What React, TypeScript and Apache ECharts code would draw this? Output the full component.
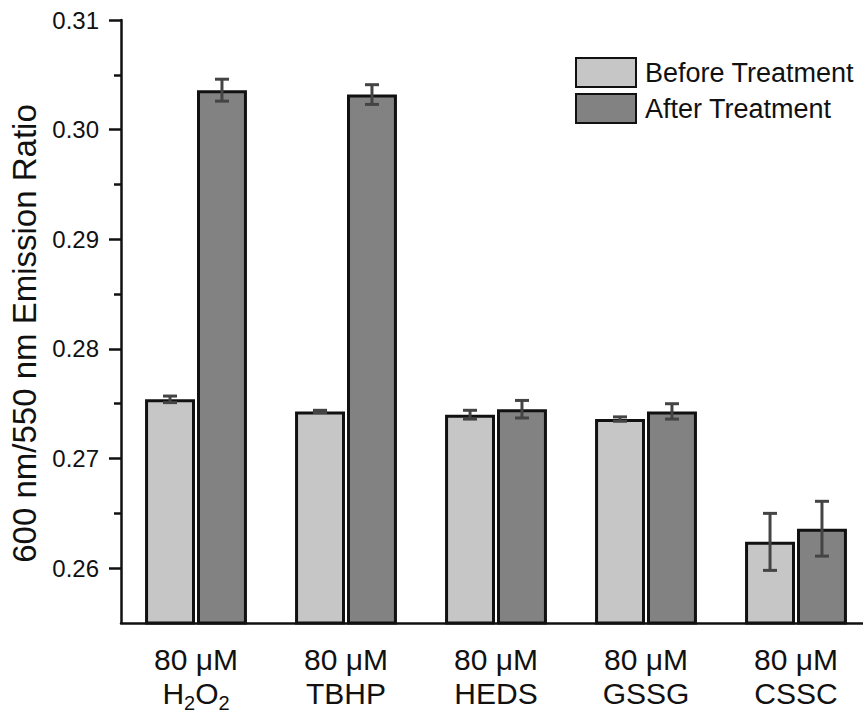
import React, { useEffect, useRef } from "react";
import * as echarts from "echarts";

const categories = ["H2O2", "TBHP", "HEDS", "GSSG", "CSSC"];
const categoryLabels = [
  "80 μM\nH{sub|2}O{sub|2}",
  "80 μM\nTBHP",
  "80 μM\nHEDS",
  "80 μM\nGSSG",
  "80 μM\nCSSC",
];
const beforeValues = [0.2754, 0.2743, 0.274, 0.2736, 0.2624];
const beforeErrors = [0.0003, 0.0001, 0.0004, 0.0002, 0.0026];
const afterValues = [0.3036, 0.3032, 0.2745, 0.2743, 0.2636];
const afterErrors = [0.001, 0.0009, 0.0008, 0.0007, 0.0025];
const majorTicks = [0.26, 0.27, 0.28, 0.29, 0.3, 0.31];
const minorTicks = [0.265, 0.275, 0.285, 0.295, 0.305];

const FONT = "Liberation Sans, Arial, sans-serif";
const BAR_FRAC = 0.333;
const BAR_GAP = 0.04;

function errorSeries(values: number[], errors: number[], side: number) {
  return {
    type: "custom",
    silent: true,
    z: 5,
    data: values.map((v, i) => [i, v - errors[i], v + errors[i]]),
    renderItem: (params: any, api: any) => {
      const band = api.size([1, 0])[0];
      const bw = band * BAR_FRAC;
      const off = side * bw * (0.5 + BAR_GAP / 2);
      const lo = api.coord([api.value(0), api.value(1)]);
      const hi = api.coord([api.value(0), api.value(2)]);
      const x = lo[0] + off;
      const cap = 7;
      const style = { stroke: "#444", lineWidth: 3 };
      return {
        type: "group",
        children: [
          { type: "line", shape: { x1: x, y1: lo[1], x2: x, y2: hi[1] }, style },
          { type: "line", shape: { x1: x - cap, y1: lo[1], x2: x + cap, y2: lo[1] }, style },
          { type: "line", shape: { x1: x - cap, y1: hi[1], x2: x + cap, y2: hi[1] }, style },
        ],
      };
    },
  };
}

export default function App() {
  const ref = useRef<HTMLDivElement>(null);
  useEffect(() => {
    if (!ref.current) return;
    const chart = echarts.init(ref.current, null, { renderer: "svg" });
    chart.setOption({
      animation: false,
      backgroundColor: "#fff",
      textStyle: { fontFamily: FONT },
      legend: {
        data: ["Before Treatment", "After Treatment"],
        orient: "vertical",
        left: 575,
        top: 57,
        padding: 0,
        itemWidth: 60,
        itemHeight: 29,
        itemGap: 5,
        icon: "rect",
        textStyle: { fontSize: 27, color: "#111", fontFamily: FONT, padding: [0, 0, 0, 4] },
      },
      grid: { left: 121, right: 0, top: 20, bottom: 102, outerBoundsMode: "none" },
      xAxis: {
        type: "category",
        data: categories,
        axisLine: { lineStyle: { color: "#111", width: 2.5 } },
        axisTick: { show: false },
        axisLabel: {
          interval: 0,
          margin: 19,
          fontSize: 30,
          lineHeight: 34,
          color: "#111",
          fontFamily: FONT,
          formatter: (_v: string, i: number) => categoryLabels[i],
          rich: {
            sub: { fontSize: 20, padding: [20, 0, 0, 0], color: "#111", fontFamily: FONT },
          },
        },
      },
      yAxis: [
        {
          type: "value",
          min: 0.255,
          max: 0.31,
          name: "600 nm/550 nm Emission Ratio",
          nameLocation: "middle",
          nameGap: 80,
          nameTextStyle: { fontSize: 33, color: "#111", fontFamily: FONT, padding: [0, 24, 0, 0] },
          axisLine: { show: true, lineStyle: { color: "#111", width: 2.5 } },
          axisTick: { show: true, customValues: majorTicks, length: 12, lineStyle: { width: 2.5, color: "#111" } },
          axisLabel: {
            customValues: majorTicks,
            margin: 22,
            fontSize: 24,
            color: "#111",
            fontFamily: FONT,
            formatter: (v: number) => v.toFixed(2),
          },
          splitLine: { show: false },
        },
        {
          type: "value",
          min: 0.255,
          max: 0.31,
          position: "left",
          axisLine: { show: false },
          axisTick: { show: true, customValues: minorTicks, length: 7, lineStyle: { width: 2.5, color: "#111" } },
          axisLabel: { show: false },
          splitLine: { show: false },
        },
      ],
      series: [
        {
          name: "Before Treatment",
          type: "bar",
          data: beforeValues,
          barWidth: (BAR_FRAC * 100).toFixed(1) + "%",
          barGap: BAR_GAP * 100 + "%",
          itemStyle: { color: "#c6c6c6", borderColor: "#111", borderWidth: 3 },
        },
        {
          name: "After Treatment",
          type: "bar",
          data: afterValues,
          barWidth: (BAR_FRAC * 100).toFixed(1) + "%",
          barGap: BAR_GAP * 100 + "%",
          itemStyle: { color: "#828282", borderColor: "#111", borderWidth: 3 },
        },
        errorSeries(beforeValues, beforeErrors, -1),
        errorSeries(afterValues, afterErrors, 1),
      ],
    });
    return () => chart.dispose();
  }, []);
  return (
    <div style={{ position: "fixed", left: 0, top: 0, width: 863, height: 725, overflow: "hidden", background: "#fff" }}>
      <div ref={ref} style={{ width: 871, height: 725 }} />
    </div>
  );
}
